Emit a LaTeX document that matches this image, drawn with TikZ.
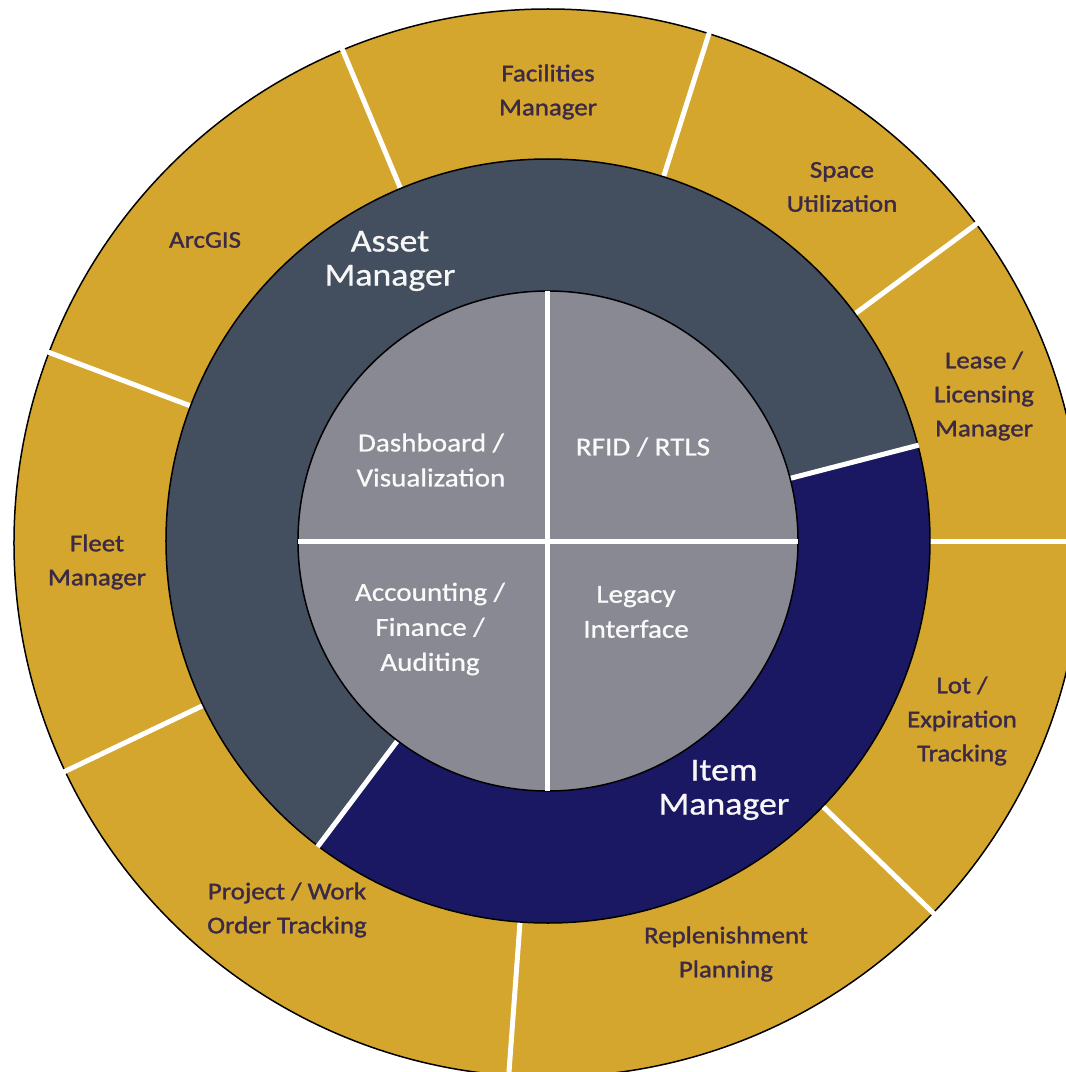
\documentclass[tikz,border=0pt]{standalone}
\usepackage{fontspec}
\setmainfont{Carlito}[FakeStretch=1.12]
\newfontfamily\outerfont{Carlito}[FakeStretch=1.12, FakeBold=1.4]
\newfontfamily\lightboldfont{Carlito}[FakeStretch=1.12, FakeBold=0.8]
\definecolor{gold}{HTML}{D5A62E}
\definecolor{slate}{HTML}{434E5E}
\definecolor{navy}{HTML}{1B1863}
\definecolor{innergray}{HTML}{898993}
\definecolor{lbldark}{HTML}{3B2A45}
\begin{document}
\begin{tikzpicture}[x=1pt,y=1pt,
  outerlbl/.style={font=\outerfont\fontsize{24}{34}\selectfont, text=lbldark, align=center},
  innerlbl/.style={font=\lightboldfont\fontsize{26}{35}\selectfont, text=white!96!gray, align=center},
  ringlbl/.style={font=\lightboldfont\fontsize{32}{34}\selectfont, text=white!94!gray, align=center},
  sepline/.style={white, line width=5pt},
  rim/.style={draw=black, line width=1.5pt}]
\useasboundingbox (-548,-531) rectangle (518,541);
\begin{scope}
\clip (-548,-531) rectangle (518,541);
\fill[gold, rim] (0,-2) circle (534);
\foreach \a in {112.7,72.4,36.5,0,-44,-94.2,205.5,159.3}
  \draw[sepline] (\a:370) -- (\a:548);
\fill[slate] (0,0) -- (14.5:382) arc (14.5:233:382) -- cycle;
\fill[navy] (0,0) -- (233:382) arc (233:374.5:382) -- cycle;
\draw[rim] (0,0) circle (382);
\draw[sepline] (14.5:245) -- (14.5:383);
\draw[sepline] (233:245) -- (233:383);
\fill[innergray, rim] (0,0) circle (250);
\draw[sepline] (-250,0) -- (250,0);
\draw[sepline] (0,-250) -- (0,250);
\end{scope}
% outer ring labels
\node[outerlbl] (fac) at (0,449) {Facilities\\Manager};
\node[outerlbl] (spc) at (294,354) {Space\\Utilization};
\node[outerlbl] (arc) at (-343,301) {ArcGIS};
\node[outerlbl] (lease) at (436,145) {Lease /\\Licensing\\Manager};
\node[outerlbl] (fleet) at (-451,-21) {Fleet\\Manager};
\node[outerlbl] (lot) at (414,-180) {Lot /\\Expiration\\Tracking};
\node[outerlbl] (rep) at (178,-413) {Replenishment\\Planning};
\node[outerlbl] (proj) at (-261,-369) {Project / Work\\Order Tracking};
% middle ring labels
\node[ringlbl] (asset) at (-158,280) {Asset\\Manager};
\node[ringlbl] (item) at (176,-249) {Item\\Manager};
% inner labels
\node[innerlbl] (dash) at (-117,81) {Dashboard /\\Visualization};
\node[innerlbl] (rfid) at (95,94) {RFID / RTLS};
\node[innerlbl] (acct) at (-118,-88) {Accounting /\\Finance /\\Auditing};
\node[innerlbl] (leg) at (88,-71) {Legacy\\Interface};
\end{tikzpicture}
\end{document}
